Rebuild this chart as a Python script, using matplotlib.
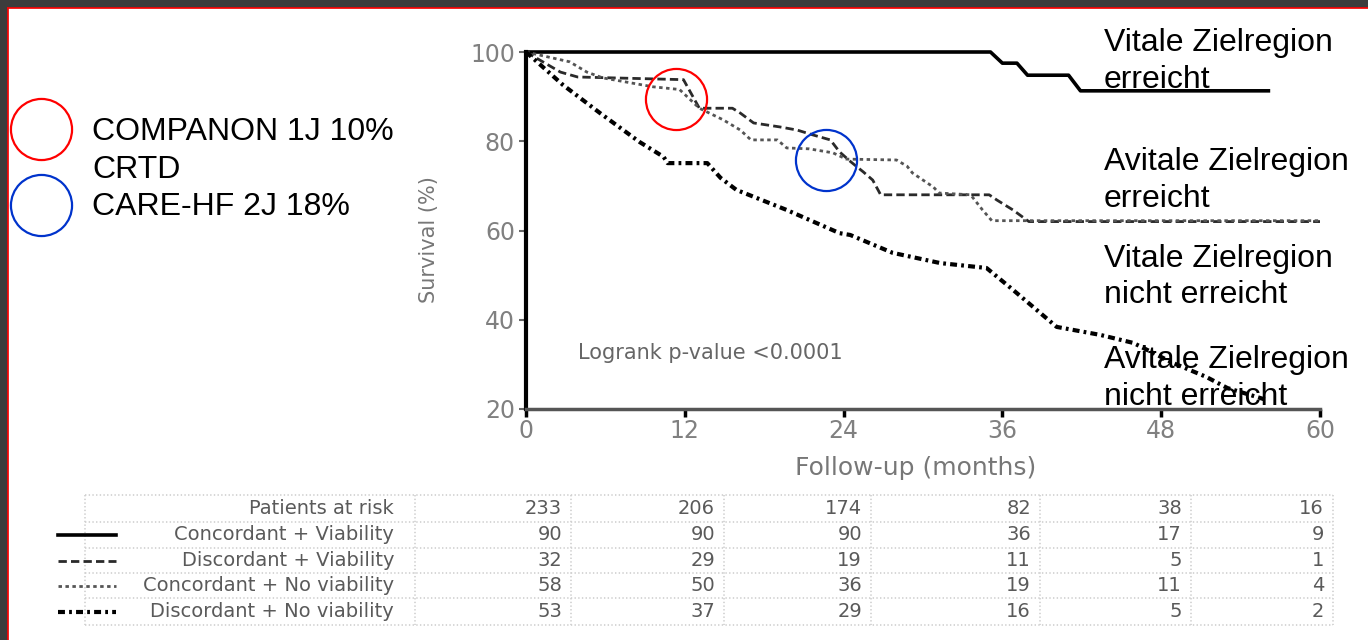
import matplotlib.pyplot as plt
from matplotlib.patches import Rectangle

plt.rcParams['lines.scale_dashes'] = False

# Kaplan-Meier curves (months, survival %)
cv_t = [0, 35.1, 36.0, 37.1, 37.9, 41.0, 41.9, 56.1]
cv_s = [100, 100, 97.5, 97.5, 94.8, 94.8, 91.3, 91.3]

dv_t = [0, 2.6, 3.9, 11.9, 13.1, 15.6, 16.2, 17.2, 19.2, 20.5, 21.7, 23.0, 23.7,
        24.5, 25.5, 26.2, 26.8, 35.0, 35.6, 36.8, 38.0, 60]
dv_s = [100, 95.5, 94.4, 93.8, 87.4, 87.4, 86.3, 84.1, 83.2, 82.5, 81.4, 80.3, 77.6,
        75.5, 73.1, 71.3, 68.0, 68.0, 66.8, 64.6, 62.0, 62.0]

cn_t = [0, 3.3, 4.6, 5.8, 9.6, 11.6, 13.1, 14.9, 16.2, 17.0, 19.0, 19.7, 21.4, 23.2,
        24.2, 28.0, 28.8, 29.2, 30.8, 31.2, 33.6, 34.5, 35.2, 60]
cn_s = [100, 97.8, 95.5, 94.2, 92.2, 91.6, 87.4, 84.8, 82.5, 80.3, 80.3, 78.5, 78.3, 77.4,
        76.0, 75.8, 74.4, 72.9, 69.7, 68.4, 68.0, 64.6, 62.2, 62.2]

dn_t = [0, 2.8, 5.6, 8.6, 10.4, 10.7, 13.7, 14.7, 15.9, 19.7, 23.7, 24.5, 27.7, 31.3,
        34.8, 36.8, 40.1, 43.4, 45.9, 48.9, 51.4, 53.0, 56.0]
dn_s = [100, 92.6, 86.3, 79.8, 76.5, 75.1, 75.1, 71.8, 69.1, 64.6, 59.4, 59.0, 55.0, 52.7,
        51.6, 46.7, 38.4, 36.6, 34.8, 30.3, 27.2, 24.7, 22.0]

# circled crossings (month, survival %)
red_mark = (11.3, 89.5)
blue_mark = (22.7, 75.8)

# numbers at risk
risk_times = [0, 12, 24, 36, 48, 60]
at_risk_total = [233, 206, 174, 82, 38, 16]
at_risk_cv = [90, 90, 90, 36, 17, 9]
at_risk_dv = [32, 29, 19, 11, 5, 1]
at_risk_cn = [58, 50, 36, 19, 11, 4]
at_risk_dn = [53, 37, 29, 16, 5, 2]
group_names = ['Concordant + Viability', 'Discordant + Viability',
               'Concordant + No viability', 'Discordant + No viability']

styles = [dict(color='black', lw=2.6),
          dict(color='#2a2a2a', lw=2.0, dashes=(6, 3)),
          dict(color='#555555', lw=2.0, dashes=(2.5, 2.5)),
          dict(color='black', lw=3.0, dashes=(5, 3, 2, 3))]

W, H = 1368, 640
fig = plt.figure(figsize=(W / 100, H / 100), dpi=100)

# main survival plot
ax = fig.add_axes([526 / W, 1 - 409 / H, 794 / W, 357 / H])
ax.set_xlim(0, 60)
ax.set_ylim(20, 100)
for s in ['top', 'right']:
    ax.spines[s].set_visible(False)
ax.spines['left'].set_linewidth(3)
ax.spines['bottom'].set_linewidth(2.5)
ax.spines['bottom'].set_color('#555555')
ax.set_xticks(risk_times)
ax.set_yticks([20, 40, 60, 80, 100])
ax.tick_params(axis='y', length=5, width=1.5, color='#666666', labelsize=17,
               labelcolor='#808080', pad=3)
ax.tick_params(axis='x', length=6, width=2.5, color='black', labelsize=17,
               labelcolor='#808080', pad=1)

for t, s, st in zip([cv_t, dv_t, cn_t, dn_t], [cv_s, dv_s, cn_s, dn_s], styles):
    ax.plot(t, s, clip_on=False, **st)

ax.plot(*red_mark, 'o', ms=44, mfc='none', mec='red', mew=1.6, clip_on=False)
ax.plot(*blue_mark, 'o', ms=44, mfc='none', mec='#0033cc', mew=1.6, clip_on=False)

ax.text(3.9, 32.6, 'Logrank p-value <0.0001', fontsize=15, color='#666666', va='center')
fig.text(916 / W, 1 - 468 / H, 'Follow-up (months)', ha='center', va='center',
         fontsize=18, color='#777777')
fig.text(429 / W, 1 - 240 / H, 'Survival (%)', ha='center', va='center',
         rotation=90, fontsize=15, color='#777777')

# overlay in pixel units for frame, notes and the at-risk table
ov = fig.add_axes([0, 0, 1, 1])
ov.set_xlim(0, W)
ov.set_ylim(H, 0)
ov.axis('off')

ov.add_patch(Rectangle((0, 0), W, 7, color='#3c3c3c'))
ov.add_patch(Rectangle((0, 0), 7, H, color='#3c3c3c'))
ov.plot([7.5, W], [7.5, 7.5], color='red', lw=1.2)
ov.plot([7.5, 7.5], [7.5, H], color='red', lw=1.2)

ov.plot(40.5, 129, 'o', ms=44, mfc='none', mec='red', mew=1.6)
ov.plot(40.5, 204.5, 'o', ms=44, mfc='none', mec='#0033cc', mew=1.6)
fnt = dict(fontsize=23, family='Liberation Sans', color='black', va='baseline')
for txt, y in [('COMPANON 1J 10%', 140), ('CRTD', 178), ('CARE-HF 2J 18%', 215)]:
    ov.text(92, y, txt, **fnt)
for txt, y in [('Vitale Zielregion', 51), ('erreicht', 88),
               ('Avitale Zielregion', 170), ('erreicht', 207),
               ('Vitale Zielregion', 267), ('nicht erreicht', 303),
               ('Avitale Zielregion', 368), ('nicht erreicht', 405)]:
    ov.text(1104, y, txt, **fnt)

# table
col_x = [85, 415, 571, 724, 871, 1040, 1191, 1333]
row_y = [495, 522, 548, 573, 598, 625]
for x in col_x:
    ov.plot([x, x], [row_y[0], row_y[-1]], color='#d0d0d0', lw=1.2, ls=':')
for y in row_y:
    ov.plot([col_x[0], col_x[-1]], [y, y], color='#d0d0d0', lw=1.2, ls=':')

rows = [('Patients at risk', at_risk_total)] + list(zip(group_names,
        [at_risk_cv, at_risk_dv, at_risk_cn, at_risk_dn]))
for i, (name, vals) in enumerate(rows):
    yc = (row_y[i] + row_y[i + 1]) / 2
    ov.text(394, yc, name, ha='right', va='center', fontsize=14, color='#5a5a5a')
    for j, v in enumerate(vals):
        ov.text(col_x[j + 2] - 9, yc, str(v), ha='right', va='center',
                fontsize=14, color='#5a5a5a')
    if i > 0:
        ov.plot([58, 116], [yc, yc], **styles[i - 1])

fig.savefig('out.png', dpi=100)
